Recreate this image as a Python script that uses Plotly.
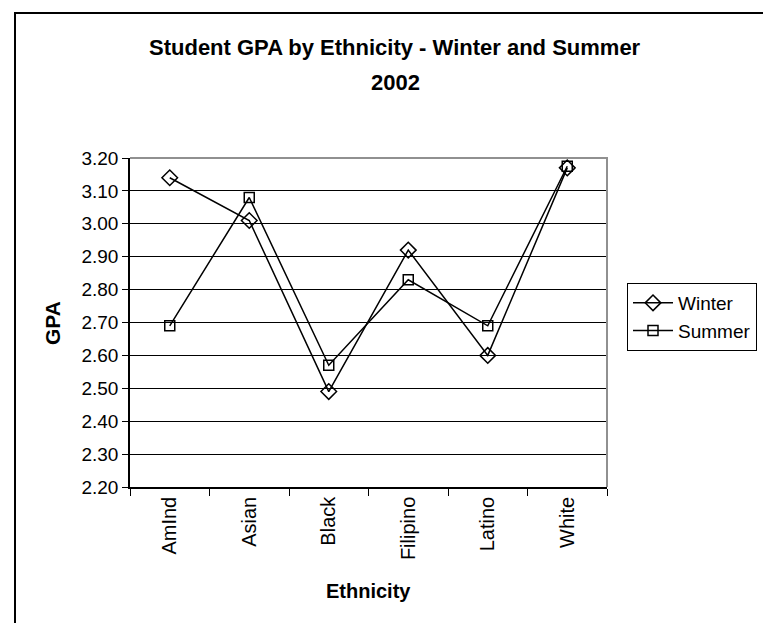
import plotly.graph_objects as go

categories = ["AmInd", "Asian", "Black", "Filipino", "Latino", "White"]
winter = [3.14, 3.01, 2.49, 2.92, 2.60, 3.17]
summer = [2.69, 3.08, 2.57, 2.83, 2.69, 3.175]
y_ticks = [2.2, 2.3, 2.4, 2.5, 2.6, 2.7, 2.8, 2.9, 3.0, 3.1, 3.2]

W, H = 771, 623
L, R, T, B = 122, 599, 150, 479  # plot area pixels
pw, ph = R - L, B - T

def px(x):
    return (x - L) / pw

def py(y):
    return (B - y) / ph

FONT = "Liberation Sans, Arial, sans-serif"

fig = go.Figure()
fig.add_trace(go.Scatter(
    x=categories, y=winter, name="Winter", mode="lines+markers",
    line=dict(color="black", width=1.5),
    marker=dict(symbol="diamond-open", size=12, color="black", line=dict(width=1.5, color="black")),
))
fig.add_trace(go.Scatter(
    x=categories, y=summer, name="Summer", mode="lines+markers",
    line=dict(color="black", width=1.5),
    marker=dict(symbol="square-open", size=10, color="black", line=dict(width=1.5, color="black")),
))

fig.update_layout(
    width=W, height=H,
    margin=dict(l=L, r=W - R, t=T, b=H - B, pad=0),
    paper_bgcolor="white", plot_bgcolor="white",
    font=dict(family=FONT, color="black", size=19),
    showlegend=True,
    legend=dict(
        x=px(619), y=py(275), xanchor="left", yanchor="top",
        bordercolor="black", borderwidth=1, bgcolor="white",
        font=dict(size=19, family=FONT), itemwidth=40,
    ),
    xaxis=dict(
        type="category", tickangle=-90, tickson="boundaries",
        ticks="outside", ticklen=7, tickcolor="black", tickwidth=1,
        showline=True, linecolor="black", linewidth=1.5,
        showgrid=False, tickfont=dict(size=20, family=FONT),
        range=[-0.5, 5.5],
    ),
    yaxis=dict(
        range=[2.2, 3.2], tickvals=y_ticks, tickformat=".2f",
        ticks="outside", ticklen=6, tickcolor="black",
        showline=True, linecolor="black", linewidth=1.5,
        showgrid=True, gridcolor="black", gridwidth=1,
        zeroline=False, tickfont=dict(size=19, family=FONT),
    ),
    shapes=[
        dict(type="path", xref="paper", yref="paper",
             path="M 0,1 L 1,1 L 1,0", line=dict(color="#909090", width=2), layer="above"),
        dict(type="rect", xref="paper", yref="paper",
             x0=px(7), x1=px(768), y0=-0.6, y1=py(5),
             line=dict(color="black", width=2), layer="above"),
    ],
    annotations=[
        dict(text="<b>Student GPA by Ethnicity - Winter and Summer</b>", xref="paper", yref="paper",
             x=px(387), y=py(40), showarrow=False, xanchor="center", yanchor="middle",
             font=dict(size=22, family=FONT)),
        dict(text="<b>2002</b>", xref="paper", yref="paper",
             x=px(387), y=py(75), showarrow=False, xanchor="center", yanchor="middle",
             font=dict(size=22, family=FONT)),
        dict(text="<b>GPA</b>", xref="paper", yref="paper",
             x=px(44), y=py(315), showarrow=False, xanchor="center", yanchor="middle",
             textangle=-90, font=dict(size=21, family=FONT)),
        dict(text="<b>Ethnicity</b>", xref="paper", yref="paper",
             x=px(360), y=py(583), showarrow=False, xanchor="center", yanchor="middle",
             font=dict(size=20, family=FONT)),
    ],
)

fig.write_html("out.html")
